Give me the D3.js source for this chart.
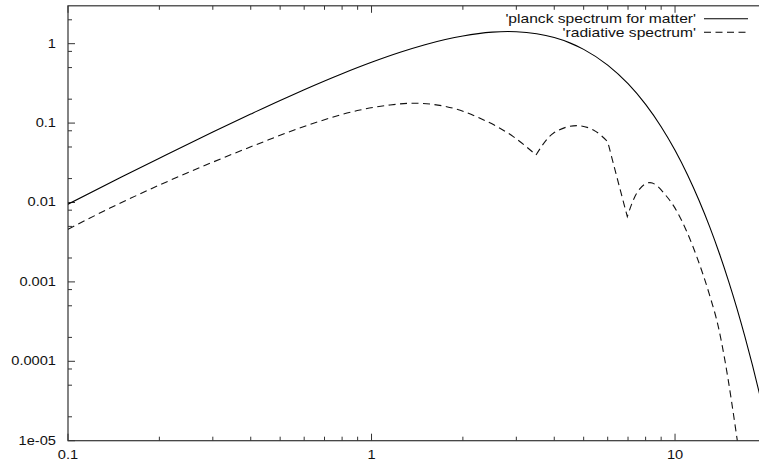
<!DOCTYPE html>
<html>
<head>
<meta charset="utf-8">
<script src="https://cdn.jsdelivr.net/npm/d3@7"></script>
<style>
  html, body { margin: 0; padding: 0; background: #fff; }
  svg { display: block; }
  text { font-family: "Liberation Sans", Arial, Helvetica, sans-serif; fill: #111; }
</style>
</head>
<body>
<svg id="chart" width="759" height="462"></svg>
<script>
// Planck spectrum for matter
const planckX = [0.1, 0.15, 0.2, 0.3, 0.4, 0.5, 0.6, 0.8, 1, 1.25, 1.5, 1.75, 2, 2.5, 2.82, 3,
  3.5, 4, 4.5, 5, 6, 7, 8, 9, 10, 11, 12, 13, 14, 15, 16, 17, 18, 19, 20];
const planckY = [0.00951, 0.0209, 0.0361, 0.0772, 0.130, 0.193, 0.263, 0.418, 0.582, 0.784, 0.969,
  1.127, 1.252, 1.397, 1.421, 1.415, 1.335, 1.194, 1.024, 0.848, 0.537, 0.313, 0.172, 0.0900,
  0.0454, 0.0222, 0.0106, 0.00497, 0.00228, 0.00103, 0.000461, 0.000203, 0.0000888, 0.0000384,
  0.0000165];

// Radiative spectrum
const radX = [0.1, 0.1375, 0.201, 0.294, 0.429, 0.627, 0.916, 1.151, 1.373, 1.769, 2.278, 2.932,
  3.483, 3.972, 4.745, 5.381, 6.0, 6.427, 6.962, 7.477, 8.27, 9.39, 10.0, 10.93, 11.79, 13.04,
  13.89, 14.61, 16.04];
const radY = [0.0046, 0.0085, 0.0167, 0.0312, 0.0558, 0.0962, 0.146, 0.169, 0.178, 0.161, 0.115,
  0.0675, 0.0397, 0.0745, 0.0929, 0.082, 0.0584, 0.0212, 0.00665, 0.0131, 0.0178, 0.0119, 0.0085,
  0.0043, 0.00208, 0.000654, 0.000272, 0.000101, 0.00001];
// sample indexes where the radiative curve has a sharp corner
const radCorners = [12, 16, 18];

const seriesNames = ["'planck spectrum for matter'", "'radiative spectrum'"];

const xTicks = [0.1, 1, 10];
const xTickLabels = ["0.1", "1", "10"];
const yTicks = [1e-5, 1e-4, 1e-3, 0.01, 0.1, 1];
const yTickLabels = ["1e-05", "0.0001", "0.001", "0.01", "0.1", "1"];
const xMinorMult = [2, 3, 4, 5, 6, 7, 8, 9];
const yMinorMult = [2, 5, 8];

// ---- layout ----
const plotLeft = 68, plotRight = 766.4, plotTop = 5.8, plotBottom = 440.7;
const majorLen = 7, minorLen = 4;
const axisColor = "#333";
const textScale = 1.22;

const svg = d3.select("#chart");

const x = d3.scaleLog().domain([0.1, 20]).range([plotLeft, plotRight]);
const y = d3.scaleLog().domain([1e-5, 3]).range([plotBottom, plotTop]);

svg.append("defs").append("clipPath").attr("id", "plotClip")
  .append("rect").attr("x", plotLeft).attr("y", plotTop)
  .attr("width", plotRight - plotLeft).attr("height", plotBottom - plotTop);

// horizontally widened label, as in the plotting terminal's font
function label(str, px, py, anchor, size, sx) {
  svg.append("text")
    .attr("transform", `translate(${px},${py}) scale(${sx},1)`)
    .attr("text-anchor", anchor)
    .style("font-size", size + "px")
    .text(str);
}

// ---- ticks ----
const ticksG = svg.append("g").attr("stroke", axisColor).attr("stroke-width", 1);

function xTick(v, len) {
  const px = x(v);
  ticksG.append("line").attr("x1", px).attr("x2", px).attr("y1", plotBottom).attr("y2", plotBottom - len);
  ticksG.append("line").attr("x1", px).attr("x2", px).attr("y1", plotTop).attr("y2", plotTop + len);
}
function yTick(v, len) {
  const py = y(v);
  ticksG.append("line").attr("x1", plotLeft).attr("x2", plotLeft + len).attr("y1", py).attr("y2", py);
  ticksG.append("line").attr("x1", plotRight).attr("x2", plotRight - len).attr("y1", py).attr("y2", py);
}

xTicks.forEach(v => xTick(v, majorLen));
yTicks.forEach(v => yTick(v, majorLen));

const [xd0, xd1] = x.domain();
for (let k = -1; k <= 1; k++) {
  xMinorMult.forEach(m => {
    const v = m * Math.pow(10, k);
    if (v > xd0 && v < xd1) xTick(v, minorLen);
  });
}
const [yd0, yd1] = y.domain();
for (let k = -5; k <= 0; k++) {
  yMinorMult.forEach(m => {
    const v = m * Math.pow(10, k);
    if (v > yd0 && v < yd1) yTick(v, minorLen);
  });
}

// ---- frame ----
svg.append("rect")
  .attr("x", plotLeft).attr("y", plotTop)
  .attr("width", plotRight - plotLeft).attr("height", plotBottom - plotTop)
  .attr("fill", "none").attr("stroke", axisColor).attr("stroke-width", 1.2);

// ---- tick labels ----
yTicks.forEach((v, i) => label(yTickLabels[i], 56, y(v) + 4, "end", 12, textScale));
xTicks.forEach((v, i) => label(xTickLabels[i], x(v), 459, "middle", 12, textScale));

// ---- curves ----
const line = d3.line()
  .x(d => x(d[0]))
  .y(d => y(d[1]))
  .curve(d3.curveMonotoneX);

const planck = planckX.map((v, i) => [v, planckY[i]]);
const rad = radX.map((v, i) => [v, radY[i]]);

const plot = svg.append("g").attr("clip-path", "url(#plotClip)");

plot.append("path")
  .attr("d", line(planck))
  .attr("fill", "none").attr("stroke", "#000").attr("stroke-width", 1.1);

// radiative curve: smooth pieces joined at the corners, kept as one subpath
const bounds = [0, ...radCorners, rad.length - 1];
let radPath = "";
for (let s = 0; s < bounds.length - 1; s++) {
  let piece = line(rad.slice(bounds[s], bounds[s + 1] + 1));
  if (s > 0) piece = piece.replace(/^M/, "L");
  radPath += piece;
}
plot.append("path")
  .attr("d", radPath)
  .attr("fill", "none").attr("stroke", "#111").attr("stroke-width", 1.1)
  .attr("stroke-dasharray", "7,4.5");

// ---- legend ----
const legendDash = [null, "7,4.5"];
const legendY = [18.7, 32.3];
seriesNames.forEach((name, i) => {
  label(name, 696, legendY[i] + 4.6, "end", 12.5, 1.25);
  svg.append("line")
    .attr("x1", 704).attr("x2", 748)
    .attr("y1", legendY[i]).attr("y2", legendY[i])
    .attr("stroke", "#000").attr("stroke-width", 1.1)
    .attr("stroke-dasharray", legendDash[i]);
});
</script>
</body>
</html>
